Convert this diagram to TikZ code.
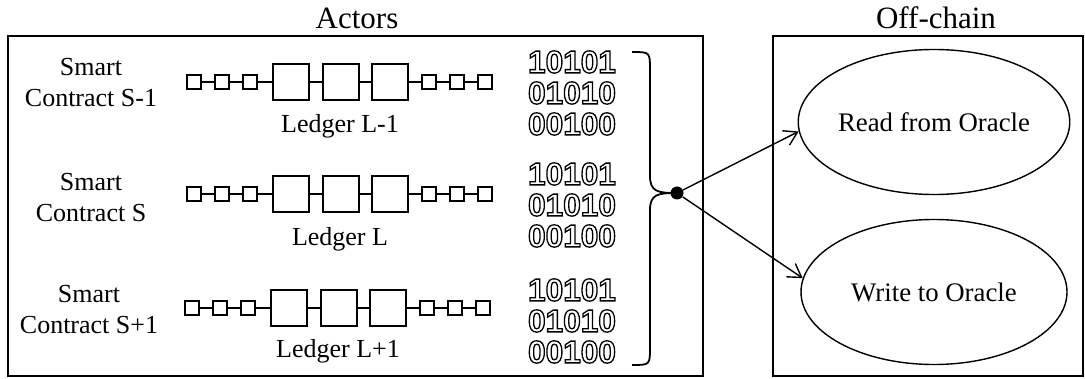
\documentclass[tikz,border=0pt]{standalone}
\usepackage{fontspec}
\setmainfont{Liberation Serif}
\newfontfamily\binfont{Liberation Sans}
\usetikzlibrary{arrows.meta,shapes.geometric}
\newcommand{\hollowtext}[1]{\special{pdf:literal direct 1 Tr 0.65 w}#1\special{pdf:literal direct 0 Tr}}
\tikzset{
  frame/.style={draw, line width=1pt, inner sep=0pt},
  ttl/.style={font=\fontsize{15.5}{18}\selectfont, inner sep=0pt},
  lbl/.style={font=\fontsize{13}{15.5}\selectfont, align=center, inner sep=0pt},
  sq/.style={draw, line width=0.9pt, minimum size=7pt, inner sep=0pt},
  bigsq/.style={draw, line width=0.9pt, minimum size=18pt, inner sep=0pt},
  link/.style={line width=0.9pt},
  oval/.style={draw, ellipse, line width=0.7pt, minimum width=133pt, minimum height=72.5pt, inner sep=0pt, font=\fontsize{13.4}{16}\selectfont},
  bits/.style={font=\binfont\bfseries\fontsize{15.8}{15.5}\selectfont, align=center, inner sep=0pt},
  arr/.style={-{Straight Barb[length=6.5pt,width=8pt]}, line width=0.7pt},
  bracestyle/.style={line width=0.9pt},
}
\begin{document}
\begin{tikzpicture}[x=0.5pt, y=-0.5pt]
\useasboundingbox (0,0) rectangle (1085,379);
% frames
\node[frame, minimum width=347.5pt, minimum height=170pt] (actors) at (355.5,206) {};
\node[frame, minimum width=155pt, minimum height=170pt] (offchain) at (928,206) {};
\node[ttl] (tactors) at (357,18) {Actors};
\node[ttl] (toff) at (936,18) {Off-chain};
% smart contract labels
\node[lbl] (c1) at (91,83) {Smart\\Contract S-1};
\node[lbl] (c2) at (91,198) {Smart\\Contract S};
\node[lbl] (c3) at (89,310) {Smart\\Contract S+1};
% chains
\foreach \r/\y/\dx in {1/82/0, 2/194/0, 3/308/-2} {
  \foreach \i/\x in {1/194,2/222,3/250} \node[sq] (r\r-s\i) at (\x+\dx,\y) {};
  \foreach \i/\x in {4/291,5/341,6/390} \node[bigsq] (r\r-s\i) at (\x+\dx,\y) {};
  \foreach \i/\x in {7/429,8/457,9/485} \node[sq] (r\r-s\i) at (\x+\dx,\y) {};
  \foreach \i in {1,...,8} {
    \pgfmathtruncatemacro\j{\i+1}
    \draw[link] (r\r-s\i) -- (r\r-s\j);
  }
}
% ledger labels
\node[lbl, anchor=base] (l1) at (340,133) {Ledger L-1};
\node[lbl, anchor=base] (l2) at (340,245) {Ledger L};
\node[lbl, anchor=base] (l3) at (338,357) {Ledger L+1};
% binary blocks
\node[bits] (b1) at (572,93) {\hollowtext{10101}\\\hollowtext{01010}\\\hollowtext{00100}};
\node[bits] (b2) at (572,205) {\hollowtext{10101}\\\hollowtext{01010}\\\hollowtext{00100}};
\node[bits] (b3) at (572,321) {\hollowtext{10101}\\\hollowtext{01010}\\\hollowtext{00100}};
% junction dot and brace
\node[circle, fill, inner sep=0pt, minimum size=6.5pt] (dot) at (677,193) {};
\coordinate (bt) at (632,52);
\coordinate (bb) at (632,365);
\draw[bracestyle] (bt) .. controls (650,52) .. (650,70) -- (650,176)
  .. controls (650,192) and (658,193) .. (dot.center)
  .. controls (658,193) and (650,194) .. (650,210) -- (650,347)
  .. controls (650,365) .. (bb);
% off-chain ellipses
\node[oval] (read) at (934,122) {Read from Oracle};
\node[oval] (write) at (934,292) {Write to Oracle};
\draw[arr] (dot) -- (read.184);
\draw[arr] (dot) -- (write.174);
\end{tikzpicture}
\end{document}
